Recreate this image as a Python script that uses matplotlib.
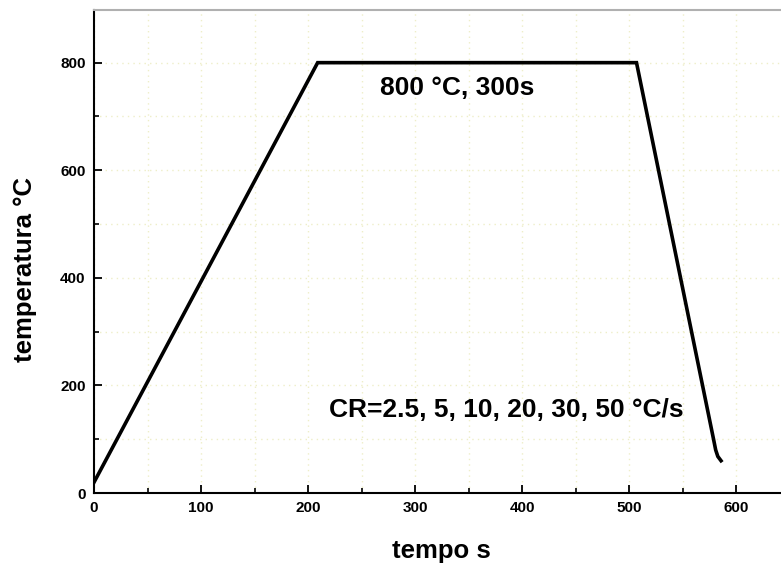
import numpy as np
import matplotlib.pyplot as plt
from matplotlib.ticker import MultipleLocator

# heat treatment cycle: heating, soak at 800 C, quench
tempo = [0, 209, 507, 579, 581, 583, 586]
temperatura = [20, 800, 800, 100, 80, 68, 60]

xticks = [0, 100, 200, 300, 400, 500, 600]
yticks = [0, 200, 400, 600, 800]

plt.rcParams['font.family'] = ['Liberation Sans', 'DejaVu Sans']

fig = plt.figure(figsize=(7.81, 5.65), dpi=100)
ax = fig.add_axes([0.1204, 0.1274, 0.8905, 0.855])

ax.plot(tempo, temperatura, color='black', linewidth=2.6, solid_joinstyle='miter')

ax.set_xlim(0, 650)
ax.set_ylim(0, 898)
ax.set_xticks(xticks)
ax.set_yticks(yticks)
ax.xaxis.set_minor_locator(MultipleLocator(50))
ax.yaxis.set_minor_locator(MultipleLocator(100))
ax.tick_params(which='major', direction='in', length=6, width=1.3, labelsize=11, pad=6)
ax.tick_params(which='minor', direction='in', length=3.5, width=1.2)
for lab in ax.get_xticklabels() + ax.get_yticklabels():
    lab.set_fontweight('bold')

ax.grid(which='both', color='#eeeec8', linestyle=(0, (1, 3)), linewidth=1.0)
ax.set_axisbelow(True)

ax.spines['right'].set_visible(False)
ax.spines['top'].set_color('#b0b0b0')
ax.spines['top'].set_linewidth(1.5)
ax.spines['left'].set_linewidth(1.5)
ax.spines['bottom'].set_linewidth(1.5)

ax.text(339, 753, '800 °C, 300s', ha='center', va='center', fontsize=19, fontweight='bold')
ax.text(220, 154, 'CR=2.5, 5, 10, 20, 30, 50 °C/s', ha='left', va='center',
        fontsize=19, fontweight='bold')

ax.set_xlabel('tempo s', fontsize=18.5, fontweight='bold', va='center')
ax.set_ylabel('temperatura °C', fontsize=18.5, fontweight='bold', va='center')
ax.xaxis.set_label_coords(0.5, -0.12)
ax.yaxis.set_label_coords(-0.099, 0.462)

fig.savefig('out.png', dpi=100)
